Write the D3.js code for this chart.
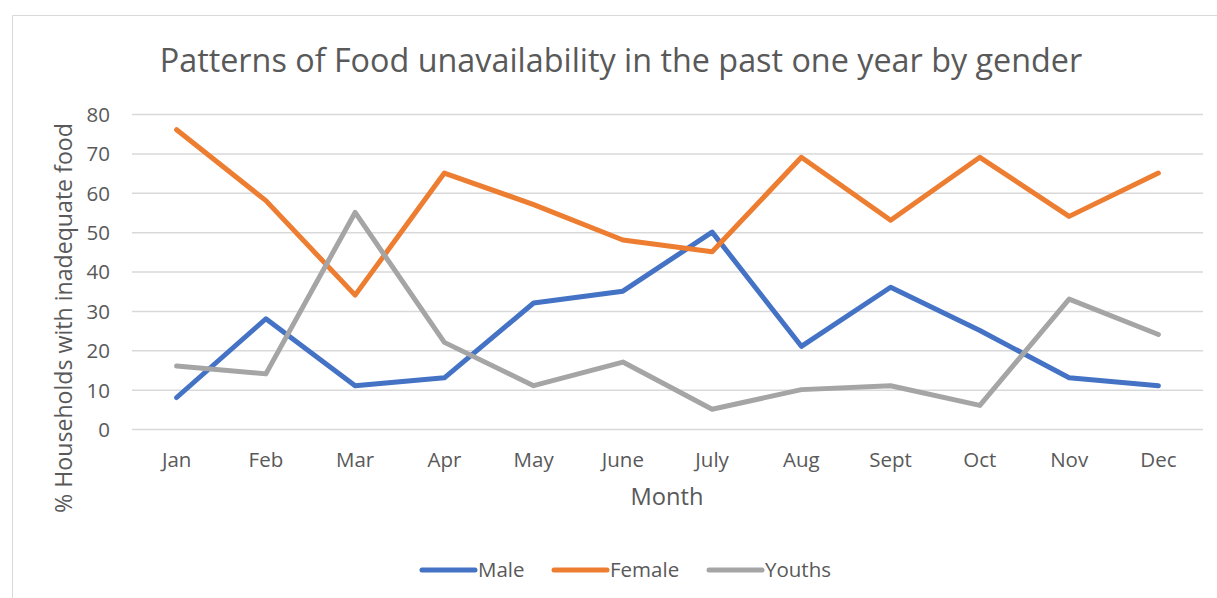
<!DOCTYPE html>
<html><head><meta charset="utf-8">
<script src="https://cdn.jsdelivr.net/npm/d3@7"></script>
<style>body{margin:0;background:#fff}svg{display:block}</style>
</head><body>
<svg id="c" width="1217" height="598"></svg>
<script>
const months = ["Jan","Feb","Mar","Apr","May","June","July","Aug","Sept","Oct","Nov","Dec"];
const male   = [8,28,11,13,32,35,50,21,36,25,13,11];
const female = [76,58,34,65,57,48,45,69,53,69,54,65];
const youths = [16,14,55,22,11,17,5,10,11,6,33,24];
const seriesNames = ["Male","Female","Youths"];
const seriesColors = ["#4472C4","#ED7D31","#A5A5A5"];
const yTicks = [0,10,20,30,40,50,60,70,80];

const svg = d3.select("#c");
const font = "'Open Sans', 'Liberation Sans', sans-serif";
const txt = "#595959";

// chart frame
svg.append("path").attr("d","M12.5,598 V15.5 H1217").attr("fill","none").attr("stroke","#d9d9d9").attr("stroke-width",1);

const x = d3.scaleBand().domain(months).range([132,1203]);
const y = d3.scaleLinear().domain([0,80]).range([429,114]);

function fit(sel, w){
  const l = sel.node().getComputedTextLength();
  const fs = parseFloat(sel.attr("font-size"));
  sel.attr("font-size", fs*w/l);
}

// gridlines
svg.append("g").selectAll("line").data(yTicks).join("line")
  .attr("x1",x.range()[0]).attr("x2",x.range()[1])
  .attr("y1",d=>y(d)+0.5).attr("y2",d=>y(d)+0.5)
  .attr("stroke","#d9d9d9").attr("stroke-width",1.5);

// y axis labels
const ya = svg.append("g").attr("transform","translate(110,0)")
  .call(d3.axisLeft(y).tickValues(yTicks).tickSize(0).tickPadding(0));
ya.select(".domain").remove();
ya.selectAll("text").attr("font-family",font).attr("font-size",20.5).attr("fill",txt).attr("dy","0.36em");

// x axis labels
const xa = svg.append("g").attr("transform","translate(0,452)")
  .call(d3.axisBottom(x).tickSize(0).tickPadding(0));
xa.select(".domain").remove();
xa.selectAll("text").attr("font-family",font).attr("font-size",20.5).attr("fill",txt).attr("dy","0.71em");

// lines
const data = [male,female,youths];
const line = d3.line().x((d,i)=>x(months[i])+x.bandwidth()/2).y(d=>y(d));
svg.append("g").selectAll("path").data(data).join("path")
  .attr("d",line).attr("fill","none")
  .attr("stroke",(d,i)=>seriesColors[i]).attr("stroke-width",5)
  .attr("stroke-linecap","round").attr("stroke-linejoin","round");

// title
const t = svg.append("text").attr("x",621).attr("y",72).attr("text-anchor","middle")
  .attr("font-family",font).attr("font-size",30).attr("fill",txt)
  .text("Patterns of Food unavailability in the past one year by gender");
fit(t, 923);

// axis titles
const xt = svg.append("text").attr("x",667).attr("y",505).attr("text-anchor","middle")
  .attr("font-family",font).attr("font-size",21).attr("fill",txt).text("Month");
fit(xt, 73);
const yt = svg.append("text").attr("transform","translate(72,318) rotate(-90)").attr("text-anchor","middle")
  .attr("font-family",font).attr("font-size",20).attr("fill",txt).text("% Households with inadequate food");
fit(yt, 390);

// legend
const legX = [420,552,707];
const lg = svg.append("g").selectAll("g").data(seriesNames).join("g")
  .attr("transform",(d,i)=>`translate(${legX[i]},570)`);
lg.append("line").attr("x1",2).attr("x2",55).attr("y1",0).attr("y2",0)
  .attr("stroke",(d,i)=>seriesColors[i]).attr("stroke-width",5).attr("stroke-linecap","round");
lg.append("text").attr("x",58).attr("y",0).attr("dy","0.36em")
  .attr("font-family",font).attr("font-size",20.5).attr("fill",txt).text(d=>d);
</script>
</body></html>
